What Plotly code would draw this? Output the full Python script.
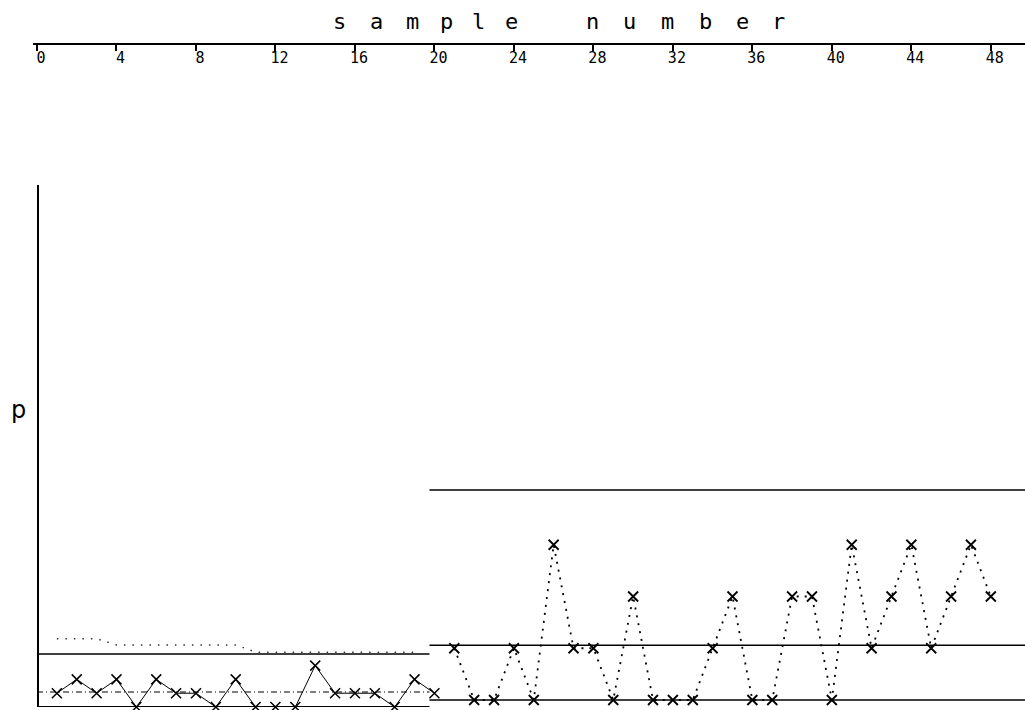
import plotly.graph_objects as go

# ---------------- data ----------------
phase1_samples = list(range(1, 21))
phase1_p = [0.0133, 0.0267, 0.0133, 0.0267, 0.0, 0.0267, 0.0133, 0.0133, 0.0, 0.0267,
            0.0, 0.0, 0.0, 0.040, 0.0133, 0.0133, 0.0133, 0.0, 0.0267, 0.0133]
phase1_center = 0.0145
phase1_ucl = 0.0512
phase1_lcl = 0.0
phase1_upper_dots_x = [1, 3, 4, 10, 11, 19]
phase1_upper_dots_p = [0.066, 0.066, 0.060, 0.060, 0.053, 0.053]

phase2_samples = list(range(21, 49))
phase2_p = [0.05, 0.0, 0.0, 0.05, 0.0, 0.15, 0.05, 0.05, 0.0, 0.10,
            0.0, 0.0, 0.0, 0.05, 0.10, 0.0, 0.0, 0.10, 0.10, 0.0,
            0.15, 0.05, 0.10, 0.15, 0.05, 0.10, 0.15, 0.10]
phase2_center = 0.053
phase2_ucl = 0.203
phase2_lcl = 0.0

phase_split = 19.75
x_end = 49.72
tick_values = list(range(0, 49, 4))
x_title_letters = ["s", "a", "m", "p", "l", "e", "n", "u", "m", "b", "e", "r"]
y_title = "p"

# ---------------- layout constants ----------------
W, H = 1025, 710
PX_PER_SAMPLE = 19.87
X0_PX = 37.0
PX_PER_P = 1035.0
letter_px = [339, 376, 412, 446, 478, 511, 592, 629, 667, 705, 742, 778]

fig = go.Figure()

# phase 1 control lines
fig.add_trace(go.Scatter(x=[0, phase_split], y=[phase1_ucl, phase1_ucl], mode="lines",
                         line=dict(color="black", width=1.5), yaxis="y", hoverinfo="skip"))
fig.add_trace(go.Scatter(x=[0, phase_split], y=[phase1_center, phase1_center], mode="lines",
                         line=dict(color="black", width=1.2, dash="6px,3px,1px,3px"), yaxis="y",
                         hoverinfo="skip"))
fig.add_trace(go.Scatter(x=[0, phase_split], y=[phase1_lcl, phase1_lcl], mode="lines",
                         line=dict(color="black", width=2), yaxis="y", hoverinfo="skip",
                         cliponaxis=False))
fig.add_trace(go.Scatter(x=phase1_upper_dots_x, y=phase1_upper_dots_p, mode="lines",
                         line=dict(color="#333333", width=1.5, dash="1.5px,7px"), yaxis="y",
                         hoverinfo="skip"))
# phase 1 data
fig.add_trace(go.Scatter(x=phase1_samples, y=phase1_p, mode="lines+markers",
                         line=dict(color="black", width=1),
                         marker=dict(symbol="x-thin", size=10, line=dict(color="black", width=1.5)),
                         yaxis="y", cliponaxis=False))

# phase 2 control lines
fig.add_trace(go.Scatter(x=[phase_split, x_end], y=[phase2_ucl, phase2_ucl], mode="lines",
                         line=dict(color="black", width=1.5), yaxis="y2", hoverinfo="skip"))
fig.add_trace(go.Scatter(x=[phase_split, x_end], y=[phase2_center, phase2_center], mode="lines",
                         line=dict(color="black", width=1.5), yaxis="y2", hoverinfo="skip"))
fig.add_trace(go.Scatter(x=[phase_split, x_end], y=[phase2_lcl, phase2_lcl], mode="lines",
                         line=dict(color="black", width=1.5), yaxis="y2", hoverinfo="skip"))
# phase 2 data
fig.add_trace(go.Scatter(x=phase2_samples, y=phase2_p, mode="lines+markers",
                         line=dict(color="black", width=1.8, dash="2px,6px"),
                         marker=dict(symbol="x-thin", size=10, line=dict(color="black", width=1.8)),
                         yaxis="y2", cliponaxis=False))

y_bottom_px = 707.0
y_top_px = 185.0
p_top = (y_bottom_px - y_top_px) / PX_PER_P
shift = 7.0 / PX_PER_P  # phase 2 baseline drawn 7 px higher

x_left_px = 33.0
fig.update_layout(
    width=W, height=H,
    margin=dict(l=0, r=0, t=0, b=0),
    paper_bgcolor="white", plot_bgcolor="white",
    showlegend=False,
    xaxis=dict(
        domain=[x_left_px / W, 1.0],
        range=[(x_left_px - X0_PX) / PX_PER_SAMPLE, x_end],
        anchor="free", position=(H - 44.0) / H, side="bottom",
        showline=True, linecolor="black", linewidth=1.5,
        ticks="outside", ticklen=6, tickwidth=1.5, tickcolor="black",
        tickvals=tick_values, ticktext=[str(v) for v in tick_values],
        tickfont=dict(family="DejaVu Sans Mono", size=15, color="black"),
        ticklabelshift=4, ticklabelstandoff=-6,
        showgrid=False, zeroline=False,
    ),
    yaxis=dict(
        domain=[(H - y_bottom_px) / H, (H - y_top_px) / H],
        range=[0, p_top],
        anchor="free", position=(X0_PX + 0.5) / W,
        showline=True, linecolor="black", linewidth=2,
        ticks="", showticklabels=False, showgrid=False, zeroline=False,
    ),
    yaxis2=dict(
        overlaying="y", anchor="free", position=(X0_PX + 0.5) / W,
        range=[-shift, p_top - shift],
        visible=False, showgrid=False, zeroline=False,
    ),
)

annotations = []
for letter, px in zip(x_title_letters, letter_px):
    annotations.append(dict(
        x=(px - X0_PX) / PX_PER_SAMPLE, xref="x", y=(H - 22.0) / H, yref="paper",
        text=letter, showarrow=False, xanchor="center", yanchor="middle",
        font=dict(family="DejaVu Sans Mono", size=22, color="black")))
annotations.append(dict(
    x=18.0 / W, xref="paper", y=(H - 410.0) / H, yref="paper",
    text=y_title, showarrow=False, xanchor="center", yanchor="middle",
    font=dict(family="DejaVu Sans", size=24, color="black")))
fig.update_layout(annotations=annotations)

fig.write_html("out.html")
